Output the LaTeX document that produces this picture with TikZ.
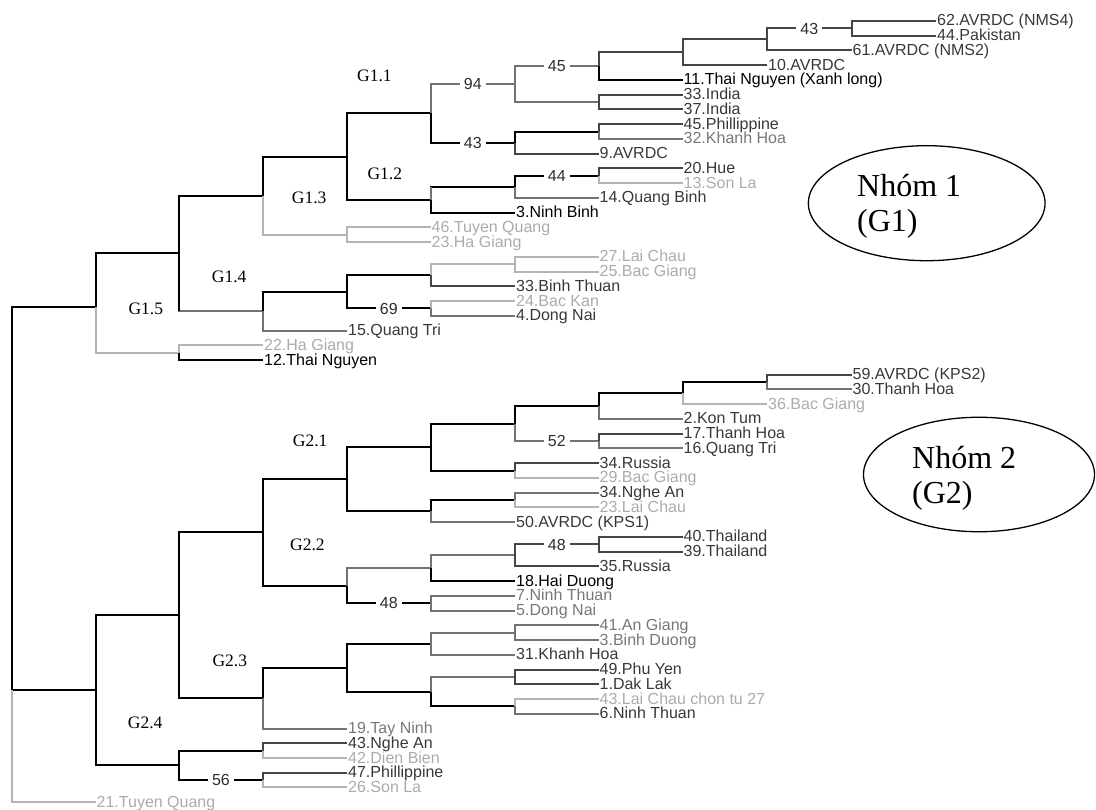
\documentclass[tikz,border=0pt]{standalone}
\usepackage{fontspec}
\setmainfont{Liberation Serif}
\setsansfont{Liberation Sans}
\usetikzlibrary{shapes.geometric}
\definecolor{cD}{HTML}{454545}
\definecolor{cM}{HTML}{737373}
\definecolor{cL}{HTML}{B5B5B5}
\definecolor{tD}{HTML}{383838}
\definecolor{tM}{HTML}{777777}
\definecolor{tL}{HTML}{ABABAB}
\definecolor{tB}{HTML}{2E2E2E}
\tikzset{
  br/.style={line width=2pt},
  bk/.style={br, draw=black},
  bd/.style={br, draw=cD},
  bm/.style={br, draw=cM},
  bl/.style={br, draw=cL},
  leaf/.style={anchor=west, inner xsep=1pt, inner ysep=0pt,
    font=\sffamily\fontsize{16}{16}\selectfont, text height=12pt, text depth=2pt},
  lk/.style={leaf, text=black},
  ld/.style={leaf, text=tD},
  lm/.style={leaf, text=tM},
  ll/.style={leaf, text=tL},
  boot/.style={pos=0.75, fill=white, inner xsep=4pt, inner ysep=0.5pt, text=tB,
    font=\sffamily\fontsize{16}{16}\selectfont, text height=11.5pt, text depth=0pt},
  glab/.style={anchor=base west, inner sep=0pt, font=\rmfamily\fontsize{17.5}{17.5}\selectfont},
  grp/.style={draw, ellipse, line width=1.3pt, inner sep=0pt},
  grptext/.style={anchor=base west, inner sep=0pt, font=\rmfamily\fontsize{32}{32}\selectfont},
}
\begin{document}
\begin{tikzpicture}[x=1pt,y=-1pt]
\useasboundingbox (0,0) rectangle (1096,810);
% ---------- internal nodes ----------
\coordinate (R) at (12,690.32);
\coordinate (G1) at (95.5,307);
\coordinate (G2) at (95.5,690.32);
\coordinate (nn) at (179,253.42);
\coordinate (nhg) at (179,352.65);
\coordinate (nj) at (263,195.64);
\coordinate (nm) at (263,311.20);
\coordinate (ni) at (347,156.54);
\coordinate (ntq) at (347,234.73);
\coordinate (nl) at (347,291.85);
\coordinate (nf) at (430.5,113.36);
\coordinate (nh) at (430.5,199.72);
\coordinate (nk) at (430.5,275.27);
\coordinate (nbk) at (430.5,308.43);
\coordinate (nd) at (515,84.11);
\coordinate (ne) at (515,142.60);
\coordinate (ng) at (515,186.83);
\coordinate (nlc) at (515,264.21);
\coordinate (nc) at (598.5,66.14);
\coordinate (nind) at (598.5,102.07);
\coordinate (nphil) at (598.5,131.55);
\coordinate (nhue) at (598.5,175.77);
\coordinate (nb) at (682.5,52.32);
\coordinate (na) at (767,39.43);
\coordinate (npk) at (851.5,28.37);
\coordinate (naf) at (179,615.27);
\coordinate (nag2) at (179,765.37);
\coordinate (naa) at (263,532.41);
\coordinate (nae) at (263,698.12);
\coordinate (nna) at (263,750.63);
\coordinate (nps) at (263,780.11);
\coordinate (nw) at (347,479.09);
\coordinate (nz) at (347,585.73);
\coordinate (nad) at (347,667.72);
\coordinate (nt) at (430.5,447.08);
\coordinate (nv) at (430.5,511.11);
\coordinate (ny) at (430.5,568.22);
\coordinate (nnt) at (430.5,603.23);
\coordinate (nab) at (430.5,643.77);
\coordinate (nac) at (430.5,691.67);
\coordinate (nr) at (515,423.59);
\coordinate (ns) at (515,470.57);
\coordinate (nu) at (515,500.05);
\coordinate (nx) at (515,555.33);
\coordinate (nag) at (515,632.71);
\coordinate (npy) at (515,676.93);
\coordinate (nlcn) at (515,706.41);
\coordinate (np) at (598.5,406.08);
\coordinate (nq) at (598.5,441.09);
\coordinate (nth) at (598.5,544.27);
\coordinate (no) at (682.5,393.19);
\coordinate (n59) at (767,382.13);
% ---------- leaves ----------
\node[ld] (l0) at (936,21.00) {62.AVRDC (NMS4)};
\node[ld] (l1) at (936,35.74) {44.Pakistan};
\node[ld] (l2) at (851.5,50.48) {61.AVRDC (NMS2)};
\node[ld] (l3) at (767,65.22) {10.AVRDC};
\node[lk] (l4) at (682.5,79.96) {11.Thai Nguyen (Xanh long)};
\node[ld] (l5) at (682.5,94.70) {33.India};
\node[ld] (l6) at (682.5,109.44) {37.India};
\node[ld] (l7) at (682.5,124.18) {45.Phillippine};
\node[lm] (l8) at (682.5,138.92) {32.Khanh Hoa};
\node[ld] (l9) at (598.5,153.66) {9.AVRDC};
\node[ld] (l10) at (682.5,168.40) {20.Hue};
\node[ll] (l11) at (682.5,183.14) {13.Son La};
\node[ld] (l12) at (598.5,197.88) {14.Quang Binh};
\node[lk] (l13) at (515,212.62) {3.Ninh Binh};
\node[ll] (l14) at (430.5,227.36) {46.Tuyen Quang};
\node[ll] (l15) at (430.5,242.10) {23.Ha Giang};
\node[ll] (l16) at (598.5,256.84) {27.Lai Chau};
\node[ll] (l17) at (598.5,271.58) {25.Bac Giang};
\node[ld] (l18) at (515,286.32) {33.Binh Thuan};
\node[ll] (l19) at (515,301.06) {24.Bac Kan};
\node[ld] (l20) at (515,315.80) {4.Dong Nai};
\node[ld] (l21) at (347,330.54) {15.Quang Tri};
\node[ll] (l22) at (263,345.28) {22.Ha Giang};
\node[lk] (l23) at (263,360.02) {12.Thai Nguyen};
\node[ld] (l24) at (851.5,374.76) {59.AVRDC (KPS2)};
\node[ld] (l25) at (851.5,389.50) {30.Thanh Hoa};
\node[ll] (l26) at (767,404.24) {36.Bac Giang};
\node[ld] (l27) at (682.5,418.98) {2.Kon Tum};
\node[ld] (l28) at (682.5,433.72) {17.Thanh Hoa};
\node[ld] (l29) at (682.5,448.46) {16.Quang Tri};
\node[ld] (l30) at (598.5,463.20) {34.Russia};
\node[ll] (l31) at (598.5,477.94) {29.Bac Giang};
\node[ld] (l32) at (598.5,492.68) {34.Nghe An};
\node[ll] (l33) at (598.5,507.42) {23.Lai Chau};
\node[ld] (l34) at (515,522.16) {50.AVRDC (KPS1)};
\node[ld] (l35) at (682.5,536.90) {40.Thailand};
\node[ld] (l36) at (682.5,551.64) {39.Thailand};
\node[ld] (l37) at (598.5,566.38) {35.Russia};
\node[lk] (l38) at (515,581.12) {18.Hai Duong};
\node[lm] (l39) at (515,595.86) {7.Ninh Thuan};
\node[lm] (l40) at (515,610.60) {5.Dong Nai};
\node[lm] (l41) at (598.5,625.34) {41.An Giang};
\node[lm] (l42) at (598.5,640.08) {3.Binh Duong};
\node[ld] (l43) at (515,654.82) {31.Khanh Hoa};
\node[ld] (l44) at (598.5,669.56) {49.Phu Yen};
\node[ld] (l45) at (598.5,684.30) {1.Dak Lak};
\node[ll] (l46) at (598.5,699.04) {43.Lai Chau chon tu 27};
\node[ld] (l47) at (598.5,713.78) {6.Ninh Thuan};
\node[lm] (l48) at (347,728.52) {19.Tay Ninh};
\node[ld] (l49) at (347,743.26) {43.Nghe An};
\node[ll] (l50) at (347,758.00) {42.Dien Bien};
\node[ld] (l51) at (347,772.74) {47.Phillippine};
\node[ll] (l52) at (347,787.48) {26.Son La};
\node[ll] (l53) at (95.5,802.22) {21.Tuyen Quang};
% ---------- branches: root and G1 ----------
\draw[bk] (R) |- (G1);
\draw[bk] (R) -- (G2);
\draw[bl] (R) |- (l53.west);
\draw[bk] (G1) |- (nn);
\draw[bl] (G1) |- (nhg);
\draw[bl] (nhg) |- (l22.west);
\draw[bk] (nhg) |- (l23.west);
\draw[bk] (nn) |- (nj);
\draw[bm] (nn) |- (nm);
\draw[bk] (nn) -- (nn |- nm);
\draw[bk] (nj) |- (ni);
\draw[bl] (nj) |- (ntq);
\draw[bl] (ntq) |- (l14.west);
\draw[bl] (ntq) |- (l15.west);
\draw[bk] (ni) |- (nf);
\draw[bk] (ni) |- (nh);
\draw[bm] (nf) |- node[boot]{94} (nd);
\draw[bk] (nf) |- node[boot]{43} (ne);
\draw[bm] (nd) |- node[boot]{45} (nc);
\draw[bm] (nd) |- (nind);
\draw[bd] (nc) |- (nb);
\draw[bk] (nc) |- (l4.west);
\draw[bd] (nb) |- (na);
\draw[bd] (nb) |- (l3.west);
\draw[bd] (na) |- node[boot]{43} (npk);
\draw[bd] (na) |- (l2.west);
\draw[bd] (npk) |- (l0.west);
\draw[bd] (npk) |- (l1.west);
\draw[bd] (nind) |- (l5.west);
\draw[bd] (nind) |- (l6.west);
\draw[bk] (ne) |- (nphil);
\draw[bd] (ne) |- (l9.west);
\draw[bd] (nphil) |- (l7.west);
\draw[bm] (nphil) |- (l8.west);
\draw[bk] (nh) |- (ng);
\draw[bm] (nh) -- (nh |- ng);
\draw[bk] (nh) |- (l13.west);
\draw[bk] (ng) |- node[boot]{44} (nhue);
\draw[bm] (ng) |- (l12.west);
\draw[bd] (nhue) |- (l10.west);
\draw[bl] (nhue) |- (l11.west);
\draw[bk] (nm) |- (nl);
\draw[bm] (nm) |- (l21.west);
\draw[bk] (nl) |- (nk);
\draw[bk] (nl) |- node[boot]{69} (nbk);
\draw[bl] (nk) |- (nlc);
\draw[bd] (nk) |- (l18.west);
\draw[bl] (nlc) |- (l16.west);
\draw[bl] (nlc) |- (l17.west);
\draw[bl] (nbk) |- (l19.west);
\draw[bm] (nbk) |- (l20.west);
% ---------- branches: G2 ----------
\draw[bk] (G2) |- (naf);
\draw[bk] (G2) |- (nag2);
\draw[bk] (naf) |- (naa);
\draw[bk] (naf) |- (nae);
\draw[bk] (naa) |- (nw);
\draw[bk] (naa) |- (nz);
\draw[bk] (nw) |- (nt);
\draw[bk] (nw) |- (nv);
\draw[bk] (nt) |- (nr);
\draw[bk] (nt) |- (ns);
\draw[bk] (nr) |- (np);
\draw[bm] (nr) |- node[boot]{52} (nq);
\draw[bk] (np) |- (no);
\draw[bm] (np) |- (l27.west);
\draw[bk] (no) |- (n59);
\draw[bl] (no) |- (l26.west);
\draw[bd] (n59) |- (l24.west);
\draw[bm] (n59) |- (l25.west);
\draw[bd] (nq) |- (l28.west);
\draw[bm] (nq) |- (l29.west);
\draw[bd] (ns) |- (l30.west);
\draw[bl] (ns) |- (l31.west);
\draw[bk] (nv) |- (nu);
\draw[bm] (nv) |- (l34.west);
\draw[bm] (nu) |- (l32.west);
\draw[bl] (nu) |- (l33.west);
\draw[bm] (nz) |- (ny);
\draw[bk] (nz) |- node[boot]{48} (nnt);
\draw[bm] (ny) |- (nx);
\draw[bk] (ny) |- (l38.west);
\draw[bd] (nx) |- node[boot]{48} (nth);
\draw[bd] (nx) |- (l37.west);
\draw[bd] (nth) |- (l35.west);
\draw[bd] (nth) |- (l36.west);
\draw[bm] (nnt) |- (l39.west);
\draw[bm] (nnt) |- (l40.west);
\draw[bk] (nae) |- (nad);
\draw[bm] (nae) |- (l48.west);
\draw[bk] (nad) |- (nab);
\draw[bk] (nad) |- (nac);
\draw[bm] (nab) |- (nag);
\draw[bm] (nab) |- (l43.west);
\draw[bm] (nag) |- (l41.west);
\draw[bm] (nag) |- (l42.west);
\draw[bm] (nac) |- (npy);
\draw[bk] (nac) |- (nlcn);
\draw[bd] (npy) |- (l44.west);
\draw[bd] (npy) |- (l45.west);
\draw[bl] (nlcn) |- (l46.west);
\draw[bm] (nlcn) |- (l47.west);
\draw[bk] (nag2) |- (nna);
\draw[bk] (nag2) |- node[boot]{56} (nps);
\draw[bd] (nna) |- (l49.west);
\draw[bl] (nna) |- (l50.west);
\draw[bd] (nps) |- (l51.west);
\draw[bl] (nps) |- (l52.west);
% ---------- group labels ----------
\node[glab] (g11) at (357,81.7) {G1.1};
\node[glab] (g12) at (367.3,180) {G1.2};
\node[glab] (g13) at (291.7,203.3) {G1.3};
\node[glab] (g14) at (211.7,282.3) {G1.4};
\node[glab] (g15) at (128.3,315) {G1.5};
\node[glab] (g21) at (292.7,446.7) {G2.1};
\node[glab] (g22) at (290,550.7) {G2.2};
\node[glab] (g23) at (212.3,666) {G2.3};
\node[glab] (g24) at (127.7,728.3) {G2.4};
% ---------- group ellipses ----------
\node[grp, minimum width=236.7pt, minimum height=115pt] (e1) at (926.7,203.2) {};
\node[grptext] (t1a) at (857,196.7) {Nhóm 1};
\node[grptext] (t1b) at (857,231.7) {(G1)};
\node[grp, minimum width=231pt, minimum height=114.5pt] (e2) at (979,474.5) {};
\node[grptext] (t2a) at (912,468.3) {Nhóm 2};
\node[grptext] (t2b) at (912,503) {(G2)};
\end{tikzpicture}
\end{document}
